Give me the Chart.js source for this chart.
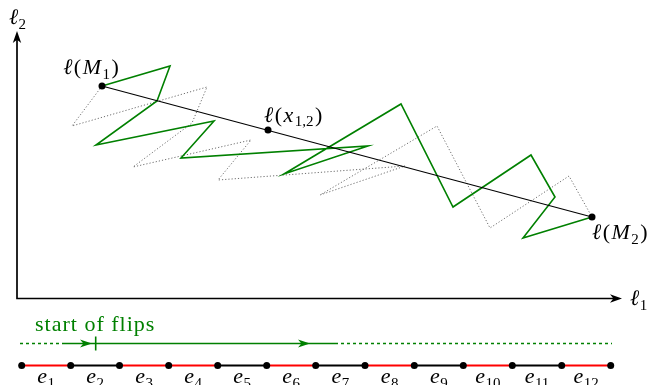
<!DOCTYPE html>
<html>
<head>
<meta charset="utf-8">
<script src="https://cdn.jsdelivr.net/npm/chart.js@4/dist/chart.umd.min.js"></script>
<style>
  html, body { margin: 0; padding: 0; background: #fff; }
  canvas { display: block; }
</style>
</head>
<body>
<canvas id="plane" width="649" height="385"></canvas>
<script>
// Segment in the (ℓ1, ℓ2) plane between ℓ(M1) and ℓ(M2)
const segmentX = [8.5, 57.5];
const segmentY = [21.25, 8.15];

// Marked points: ℓ(M1), ℓ(x_{1,2}), ℓ(M2)
const markedX = [8.5, 25.1, 57.5];
const markedY = [21.25, 16.85, 8.15];

// Path followed by the flips (solid green)
const flipPathX = [8.5, 15.3, 14.0, 7.9, 19.7, 16.4, 35.1, 26.7, 38.4, 43.6, 51.4, 53.8, 50.6, 57.5];
const flipPathY = [21.25, 23.25, 19.75, 15.35, 17.75, 14.05, 15.25, 12.45, 19.45, 9.15, 14.35, 10.15, 6.05, 8.15];

// Alternative path (dotted grey)
const altPathX = [8.5, 5.5, 19.0, 17.5, 11.6, 23.4, 20.1, 38.8, 30.3, 42.0, 47.3, 55.2, 57.5];
const altPathY = [21.25, 17.25, 21.15, 17.55, 13.15, 15.85, 11.85, 13.25, 10.35, 17.25, 7.05, 12.25, 8.15];

// Chain of edges e1 … e12 under the plane
const nodeX = [0.47, 5.37, 10.25, 15.17, 20.07, 24.97, 29.87, 34.80, 39.73, 44.63, 49.53, 54.47, 59.37];
const chainLevel = -6.7;
const edgeColours = ['red', 'black', 'red', 'red', 'black', 'red', 'black', 'red', 'black', 'red', 'black', 'red'];
const edgeIndex = ['1', '2', '3', '4', '5', '6', '7', '8', '9', '10', '11', '12'];

// "start of flips" marker line
const flipLineX = [0.3, 4.5, 7.87, 31.8, 59.5];
const flipLineDashed = [true, false, false, true];
const flipLineLevel = -4.5;
const flipArrowTips = [7.5, 29.3];
const flipStartX = 7.87;

// Axis ends
const axisEndX = 60.5;
const axisEndY = 26.75;

const GREEN = '#008000';
const SERIF = '"Liberation Serif", "Times New Roman", serif';

const pts = (xs, ys) => xs.map((x, i) => ({ x: x, y: Array.isArray(ys) ? ys[i] : ys }));

function arrowHead(ctx, x, y, ang, len, half, colour) {
  ctx.save();
  ctx.translate(x, y);
  ctx.rotate(ang);
  ctx.beginPath();
  ctx.moveTo(0, 0);
  ctx.lineTo(-len, -half);
  ctx.lineTo(-len * 0.72, 0);
  ctx.lineTo(-len, half);
  ctx.closePath();
  ctx.fillStyle = colour;
  ctx.fill();
  ctx.restore();
}

// Draws a math-like label made of runs: 'i' italic, 'r' roman, 's' subscript
function mathText(ctx, runs, x, y, align, colour, size, gap) {
  const sub = Math.round(size * 0.7);
  const fontOf = k => k === 'i' ? `italic ${size}px ${SERIF}` : k === 's' ? `${sub}px ${SERIF}` : `${size}px ${SERIF}`;
  let total = 0;
  const widths = runs.map(([t, k]) => { ctx.font = fontOf(k); const w = ctx.measureText(t).width + gap; total += w; return w; });
  total -= gap;
  let cx = align === 'center' ? x - total / 2 : x;
  ctx.fillStyle = colour;
  ctx.textBaseline = 'alphabetic';
  ctx.textAlign = 'left';
  runs.forEach(([t, k], i) => {
    ctx.font = fontOf(k);
    ctx.fillText(t, cx, k === 's' ? y + size * 0.22 : y);
    cx += widths[i];
  });
}

const labelRuns = {
  M1: [['ℓ', 'i'], ['(', 'r'], ['M', 'i'], ['1', 's'], [')', 'r']],
  x12: [['ℓ', 'i'], ['(', 'r'], ['x', 'i'], ['1,2', 's'], [')', 'r']],
  M2: [['ℓ', 'i'], ['(', 'r'], ['M', 'i'], ['2', 's'], [')', 'r']],
  l1: [['ℓ', 'i'], ['1', 's']],
  l2: [['ℓ', 'i'], ['2', 's']]
};

const decorations = {
  id: 'decorations',
  afterDatasetsDraw(chart) {
    const ctx = chart.ctx;
    const sx = chart.scales.x, sy = chart.scales.y;
    const px = v => sx.getPixelForValue(v), py = v => sy.getPixelForValue(v);

    // axis arrow heads
    arrowHead(ctx, px(0), py(axisEndY), -Math.PI / 2, 12, 4.2, '#000');
    arrowHead(ctx, px(axisEndX), py(0), 0, 12, 4.2, '#000');

    // flip line arrow heads and start tick
    flipArrowTips.forEach(t => arrowHead(ctx, px(t), py(flipLineLevel), 0, 12, 4, GREEN));
    ctx.save();
    ctx.strokeStyle = GREEN;
    ctx.lineWidth = 1.6;
    ctx.beginPath();
    ctx.moveTo(px(flipStartX), py(flipLineLevel) - 7);
    ctx.lineTo(px(flipStartX), py(flipLineLevel) + 7);
    ctx.stroke();
    ctx.restore();

    const size = 22;
    mathText(ctx, labelRuns.M1, px(markedX[0]) - 11, py(markedY[0]) - 12, 'center', '#000', size, 1.5);
    mathText(ctx, labelRuns.x12, px(markedX[1]) - 4, py(markedY[1]) - 8.5, 'left', '#000', size, 1.5);
    mathText(ctx, labelRuns.M2, px(markedX[2]), py(markedY[2]) + 22, 'left', '#000', size, 1.5);
    mathText(ctx, labelRuns.l2, px(0) + 0.5, py(axisEndY) - 7, 'center', '#000', size, 0.5);
    mathText(ctx, labelRuns.l1, px(axisEndX) + 8, py(0) + 6.5, 'left', '#000', size, 0.5);

    // edge names
    for (let i = 0; i < edgeIndex.length; i++) {
      const mid = (px(nodeX[i]) + px(nodeX[i + 1])) / 2;
      mathText(ctx, [['e', 'i'], [edgeIndex[i], 's']], mid, py(chainLevel) + 17.5, 'center', '#000', size, 0.5);
    }

    // caption over the flip line
    ctx.save();
    ctx.font = `${size}px ${SERIF}`;
    ctx.letterSpacing = '1px';
    ctx.fillStyle = GREEN;
    ctx.textAlign = 'left';
    ctx.textBaseline = 'alphabetic';
    ctx.fillText('start of flips', px(flipLineX[0]) + 15, py(flipLineLevel) - 13);
    ctx.restore();
  }
};

new Chart(document.getElementById('plane'), {
  type: 'scatter',
  data: {
    datasets: [
      {
        label: 'marked points',
        data: pts(markedX, markedY),
        showLine: false,
        pointRadius: 3.5,
        pointBackgroundColor: '#000',
        pointBorderColor: '#000',
        pointBorderWidth: 0
      },
      {
        label: 'edges',
        data: pts(nodeX, chainLevel),
        showLine: true,
        borderWidth: 2,
        borderColor: '#000',
        segment: { borderColor: c => edgeColours[c.p0DataIndex] === 'red' ? '#ff0000' : '#000000' },
        pointRadius: 3.5,
        pointBackgroundColor: '#000',
        pointBorderColor: '#000',
        pointBorderWidth: 0
      },
      {
        label: 'segment',
        data: pts(segmentX, segmentY),
        showLine: true,
        borderColor: '#000',
        borderWidth: 1.1,
        pointRadius: 0
      },
      {
        label: 'flip path',
        data: pts(flipPathX, flipPathY),
        showLine: true,
        borderColor: GREEN,
        borderWidth: 1.6,
        pointRadius: 0
      },
      {
        label: 'alternative path',
        data: pts(altPathX, altPathY),
        showLine: true,
        borderColor: '#6e6e6e',
        borderWidth: 1,
        borderDash: [1.2, 2],
        pointRadius: 0
      },
      {
        label: 'start of flips',
        data: pts(flipLineX, flipLineLevel),
        showLine: true,
        borderColor: GREEN,
        borderWidth: 1.4,
        segment: { borderDash: c => flipLineDashed[c.p0DataIndex] ? [3, 3] : undefined },
        pointRadius: 0
      },
      {
        label: 'axes',
        data: [{ x: 0, y: axisEndY - 0.6 }, { x: 0, y: 0 }, { x: axisEndX - 0.6, y: 0 }],
        showLine: true,
        borderColor: '#000',
        borderWidth: 1.7,
        borderJoinStyle: 'miter',
        pointRadius: 0
      }
    ]
  },
  options: {
    responsive: false,
    animation: false,
    devicePixelRatio: 1,
    events: [],
    layout: { padding: 0, autoPadding: false },
    plugins: { legend: { display: false }, tooltip: { enabled: false } },
    scales: {
      x: { type: 'linear', display: false, min: -1.7, max: 63.2 },
      y: { type: 'linear', display: false, min: -8.65, max: 29.85 }
    }
  },
  plugins: [decorations]
});
</script>
</body>
</html>
